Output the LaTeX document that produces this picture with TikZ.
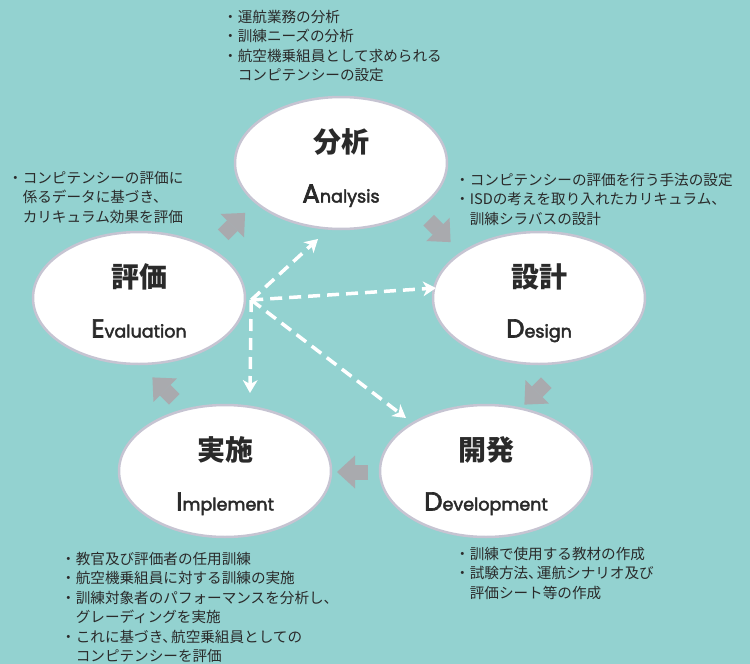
\documentclass[tikz,border=0pt]{standalone}
\usepackage{fontspec}
\setmainfont{Noto Sans CJK JP}
\newfontfamily\enfont[FakeBold=2.5]{Poppins}
\usetikzlibrary{shapes.geometric,arrows.meta}
\definecolor{bg}{HTML}{93D2D0}
\definecolor{ellline}{HTML}{C6C4D2}
\definecolor{arrgray}{HTML}{A9AAAE}
\definecolor{txt}{HTML}{2A2A2A}
\newcommand\bigsmall[2]{{\fontsize{26}{26}\selectfont #1}{\fontsize{17.5}{18}\selectfont #2}}
\newcommand\indt{\phantom{・}}
\begin{document}
\begin{tikzpicture}[x=1pt,y=-1pt,
  phase/.style={ellipse, draw=ellline, line width=2.5pt, fill=white, minimum width=212pt, minimum height=132pt, inner sep=0pt},
  jtitle/.style={font=\bfseries\fontsize{28}{30}\selectfont, text=txt, inner sep=0pt, anchor=center},
  etitle/.style={font=\enfont, text=txt, inner sep=0pt, anchor=base},
  bullets/.style={font=\fontsize{14.6}{19.4}\selectfont, text=txt, align=left, inner sep=0pt, anchor=north west},
  cycarr/.style={draw=arrgray, line width=15pt, -{Triangle[length=18pt,width=33pt,line width=0pt]}},
  dasharr/.style={draw=white, line width=3.5pt, dash pattern=on 12pt off 7pt, -{Stealth[length=13pt,width=15pt,inset=4pt,line width=0pt]}}
]
\fill[bg] (0,0) rectangle (750,664);
\useasboundingbox (0,0) rectangle (750,664);

% phases
\node[phase] (an) at (341,163) {};
\node[phase] (ev) at (139,298) {};
\node[phase] (de) at (539,298) {};
\node[phase] (dv) at (486,471) {};
\node[phase] (im) at (225,471) {};

\node[jtitle] (anj) at ([yshift=21pt]an.center) {分析};
\node[etitle] (ane) at ([yshift=-39.5pt]an.center) {\bigsmall{A}{nalysis}};
\node[jtitle] (evj) at ([yshift=21pt]ev.center) {評価};
\node[etitle] (eve) at ([yshift=-39.5pt]ev.center) {\bigsmall{E}{valuation}};
\node[jtitle] (dej) at ([yshift=21pt]de.center) {設計};
\node[etitle] (dee) at ([yshift=-39.5pt]de.center) {\bigsmall{D}{esign}};
\node[jtitle] (dvj) at ([yshift=21pt]dv.center) {開発};
\node[etitle] (dve) at ([yshift=-39.5pt]dv.center) {\bigsmall{D}{evelopment}};
\node[jtitle] (imj) at ([yshift=21pt]im.center) {実施};
\node[etitle] (ime) at ([yshift=-39.5pt]im.center) {\bigsmall{I}{mplement}};

% bullet texts
\node[bullets] (tan) at (223,10) {・運航業務の分析\\・訓練ニーズの分析\\・航空機乗組員として求められる\\\indt コンピテンシーの設定};
\node[bullets] (tev) at (8,171) {・コンピテンシーの評価に\\\indt 係るデータに基づき、\\\indt カリキュラム効果を評価};
\node[bullets] (tde) at (455,173) {・コンピテンシーの評価を行う手法の設定\\・ISDの考えを取り入れたカリキュラム、\\\indt 訓練シラバスの設計};
\node[bullets] (tdv) at (455,547) {・訓練で使用する教材の作成\\・試験方法、\kern-0.4em運航シナリオ及び\\\indt 評価シート等の作成};
\node[bullets] (tim) at (61,552) {・教官及び評価者の任用訓練\\・航空機乗組員に対する訓練の実施\\・訓練対象者のパフォーマンスを分析し、\\\indt グレーディングを実施\\・これに基づき、\kern-0.4em航空乗組員としての\\\indt コンピテンシーを評価};

% cycle arrows
\coordinate (g1a) at (223.2,234.8); \coordinate (g1b) at (245.1,212.9);
\coordinate (g2a) at (428.7,220.2); \coordinate (g2b) at (450.6,242.1);
\coordinate (g3a) at (546.3,382.7); \coordinate (g3b) at (524.4,404.6);
\coordinate (g4a) at (368,472);     \coordinate (g4b) at (337,472);
\coordinate (g5a) at (174.3,399.3); \coordinate (g5b) at (152.4,377.4);
\draw[cycarr] (g1a) -- (g1b);
\draw[cycarr] (g2a) -- (g2b);
\draw[cycarr] (g3a) -- (g3b);
\draw[cycarr] (g4a) -- (g4b);
\draw[cycarr] (g5a) -- (g5b);

% dashed feedback arrows
\coordinate (hub) at ([shift={(5,2)}]ev.east);
\coordinate (d1) at (318,239);
\coordinate (d2) at (436,288);
\coordinate (d3) at (250,393);
\coordinate (d4) at (406,418);
\draw[dasharr] (hub) -- (d1);
\draw[dasharr] (hub) -- (d2);
\draw[dasharr] (hub) -- (d3);
\draw[dasharr] (hub) -- (d4);
\end{tikzpicture}
\end{document}
